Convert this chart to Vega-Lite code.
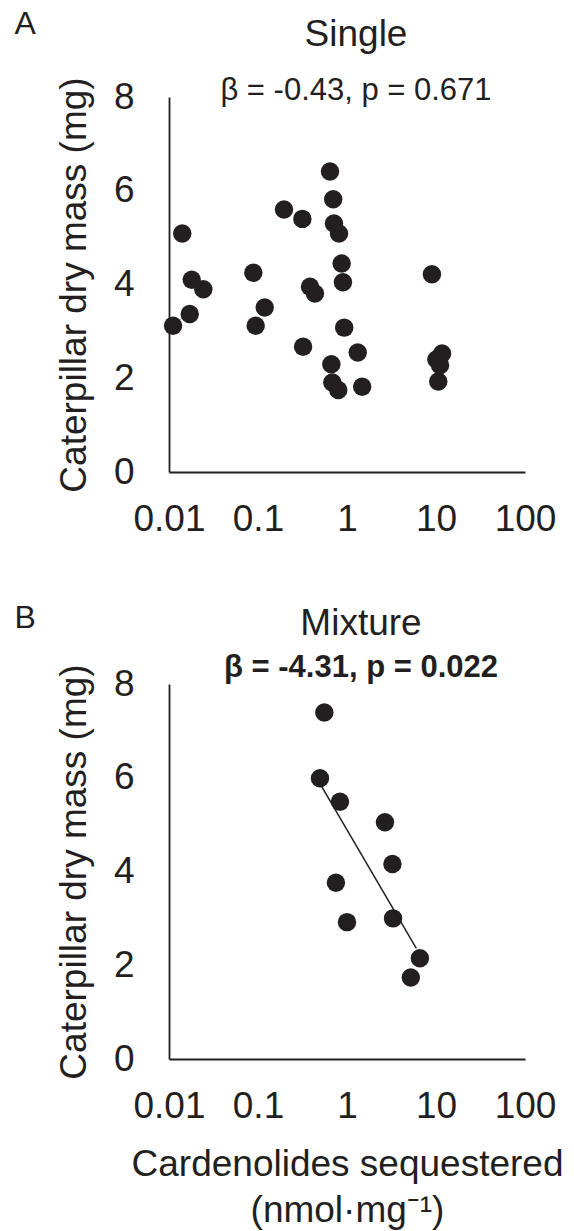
{
  "$schema": "https://vega.github.io/schema/vega-lite/v6.json",
  "padding": {"left": 14, "right": 2, "top": 7, "bottom": 2},
  "background": "white",
  "config": {
    "font": "Liberation Sans",
    "view": {"stroke": null},
    "axis": {"domainColor": "#231f20", "domainWidth": 1.8, "ticks": false, "grid": false, "labelFontSize": 37, "labelColor": "#231f20", "labelFont": "Liberation Sans", "titleFontSize": 37, "titleFontWeight": "normal", "titleColor": "#231f20", "titleFont": "Liberation Sans", "labelFlush": false},
    "title": {"font": "Liberation Sans", "fontSize": 37, "fontWeight": "normal", "color": "#231f20", "subtitleFont": "Liberation Sans", "subtitleFontSize": 31, "subtitleColor": "#231f20"},
    "concat": {"spacing": 64}
  },
  "datasets": {
    "single": [
      {"cardenolides": 0.644, "mass": 6.41}, {"cardenolides": 0.70, "mass": 5.82}, {"cardenolides": 0.196, "mass": 5.60},
      {"cardenolides": 0.315, "mass": 5.40}, {"cardenolides": 0.714, "mass": 5.30}, {"cardenolides": 0.813, "mass": 5.09},
      {"cardenolides": 0.0141, "mass": 5.09}, {"cardenolides": 0.871, "mass": 4.45}, {"cardenolides": 0.0886, "mass": 4.25},
      {"cardenolides": 0.0180, "mass": 4.10}, {"cardenolides": 0.0243, "mass": 3.90}, {"cardenolides": 0.384, "mass": 3.95},
      {"cardenolides": 0.436, "mass": 3.81}, {"cardenolides": 0.90, "mass": 4.05}, {"cardenolides": 0.119, "mass": 3.51},
      {"cardenolides": 0.0171, "mass": 3.37}, {"cardenolides": 0.0111, "mass": 3.12}, {"cardenolides": 0.0942, "mass": 3.12},
      {"cardenolides": 0.321, "mass": 2.67}, {"cardenolides": 0.93, "mass": 3.08}, {"cardenolides": 0.667, "mass": 2.30},
      {"cardenolides": 0.684, "mass": 1.91}, {"cardenolides": 0.798, "mass": 1.75}, {"cardenolides": 1.32, "mass": 2.55},
      {"cardenolides": 1.48, "mass": 1.82}, {"cardenolides": 9.0, "mass": 4.22}, {"cardenolides": 11.7, "mass": 2.53},
      {"cardenolides": 10.1, "mass": 2.40}, {"cardenolides": 11.1, "mass": 2.28}, {"cardenolides": 10.6, "mass": 1.93}
    ],
    "mixture": [
      {"cardenolides": 0.556, "mass": 7.39}, {"cardenolides": 0.497, "mass": 5.99}, {"cardenolides": 0.834, "mass": 5.49},
      {"cardenolides": 2.67, "mass": 5.05}, {"cardenolides": 3.24, "mass": 4.16}, {"cardenolides": 0.751, "mass": 3.76},
      {"cardenolides": 1.0, "mass": 2.92}, {"cardenolides": 3.29, "mass": 3.0}, {"cardenolides": 6.59, "mass": 2.15},
      {"cardenolides": 5.21, "mass": 1.74}
    ],
    "fit": [
      {"cardenolides": 0.52, "mass": 5.81}, {"cardenolides": 6.01, "mass": 2.36}
    ]
  },
  "vconcat": [
    {
      "title": {"text": "A", "anchor": "start", "frame": "bounds", "fontSize": 32, "offset": -25, "dx": -41},
      "vconcat": [
        {
          "width": 356, "height": 375,
          "title": {"text": "Single", "subtitle": "β = -0.43, p = 0.671", "anchor": "middle", "frame": "group", "dx": 9, "offset": -30, "subtitlePadding": 22},
          "data": {"name": "single"},
          "mark": {"type": "circle", "size": 340, "color": "#231f20", "opacity": 1},
          "encoding": {
            "x": {"field": "cardenolides", "type": "quantitative", "scale": {"type": "log", "domain": [0.01, 100]},
                  "axis": {"values": [0.01, 0.1, 1, 10, 100], "labelExpr": "'' + datum.value", "labelPadding": 29, "title": null}},
            "y": {"field": "mass", "type": "quantitative", "scale": {"domain": [0, 8]},
                  "axis": {"values": [0, 2, 4, 6, 8], "labelPadding": 35, "title": "Caterpillar dry mass (mg)", "titlePadding": 20}}
          }
        }
      ]
    },
    {
      "title": {"text": "B", "anchor": "start", "frame": "bounds", "fontSize": 32, "offset": -30, "dx": -41},
      "vconcat": [
        {
          "width": 356, "height": 375,
          "title": {"text": "Mixture", "subtitle": "β = -4.31, p = 0.022", "subtitleFontWeight": "bold", "anchor": "middle", "frame": "group", "dx": 14, "offset": -20, "subtitlePadding": 10},
          "layer": [
            {
              "data": {"name": "mixture"},
              "mark": {"type": "circle", "size": 340, "color": "#231f20", "opacity": 1},
              "encoding": {
                "x": {"field": "cardenolides", "type": "quantitative", "scale": {"type": "log", "domain": [0.01, 100]},
                      "axis": {"values": [0.01, 0.1, 1, 10, 100], "labelExpr": "'' + datum.value", "labelPadding": 29,
                               "title": ["Cardenolides sequestered", "(nmol·mg⁻¹)"], "titleLineHeight": 46, "titlePadding": 22}},
                "y": {"field": "mass", "type": "quantitative", "scale": {"domain": [0, 8]},
                      "axis": {"values": [0, 2, 4, 6, 8], "labelPadding": 35, "title": "Caterpillar dry mass (mg)", "titlePadding": 20}}
              }
            },
            {
              "data": {"name": "fit"},
              "mark": {"type": "line", "color": "#231f20", "strokeWidth": 1.5},
              "encoding": {
                "x": {"field": "cardenolides", "type": "quantitative"},
                "y": {"field": "mass", "type": "quantitative"}
              }
            }
          ]
        }
      ]
    }
  ]
}
